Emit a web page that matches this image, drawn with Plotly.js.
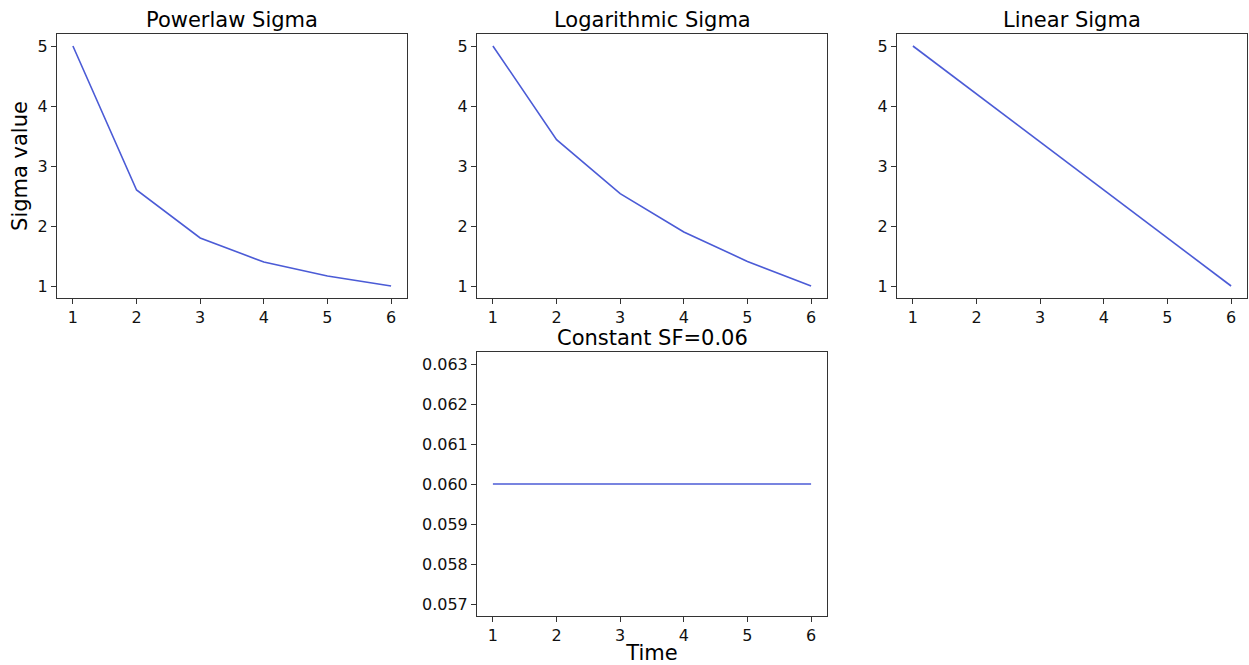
<!DOCTYPE html>
<html><head><meta charset="utf-8">
<script src="https://cdn.plot.ly/plotly-3.0.1.min.js"></script>
<style>html,body{margin:0;padding:0;background:#fff;}#plot{width:1249px;height:665px;}</style>
</head><body><div id="plot"></div>
<script>
const time = [1, 2, 3, 4, 5, 6];
const powerlawSigma = [5.0, 2.6, 1.8, 1.4, 1.167, 1.0];
const logarithmicSigma = [5.0, 3.44, 2.54, 1.9, 1.41, 1.0];
const linearSigma = [5.0, 4.2, 3.4, 2.6, 1.8, 1.0];
const constantSF = [0.06, 0.06, 0.06, 0.06, 0.06, 0.06];
const titles = ["Powerlaw Sigma", "Logarithmic Sigma", "Linear Sigma", "Constant SF=0.06"];
const sigmaTicks = [1, 2, 3, 4, 5];
const sfTicks = [0.057, 0.058, 0.059, 0.060, 0.061, 0.062, 0.063];
const sfTickText = ["0.057", "0.058", "0.059", "0.060", "0.061", "0.062", "0.063"];
const timeTicks = [1, 2, 3, 4, 5, 6];

const W = 1249, H = 665;
const color = "#4b5bd6";
const font = "DejaVu Sans, sans-serif";
const fx = (a, b) => [a / W, b / W];
const fy = (top, bot) => [1 - bot / H, 1 - top / H];

const panels = [
  {x: fx(57, 407), y: fy(34, 298), data: powerlawSigma},
  {x: fx(477, 827), y: fy(34, 298), data: logarithmicSigma},
  {x: fx(897, 1247), y: fy(34, 298), data: linearSigma},
  {x: fx(477, 827), y: fy(352, 616), data: constantSF}
];

const traces = [];
const layout = {
  width: W, height: H,
  margin: {l: 0, r: 0, t: 0, b: 0},
  paper_bgcolor: "#fff", plot_bgcolor: "#fff",
  showlegend: false,
  font: {family: font, color: "#000", size: 16},
  annotations: []
};

panels.forEach((p, i) => {
  const n = i + 1;
  const sfx = (n === 1 ? "" : String(n));
  traces.push({x: time, y: p.data, xaxis: "x" + sfx, yaxis: "y" + sfx, type: "scatter", mode: "lines",
    line: {color: color, width: 1.6}, hoverinfo: "x+y"});
  const common = {showline: true, mirror: true, linecolor: "#333", linewidth: 1,
    showgrid: false, zeroline: false, ticks: "outside", ticklen: 5, tickwidth: 1, tickcolor: "#333",
    tickfont: {family: font, size: 16, color: "#111"}};
  layout["xaxis" + sfx] = Object.assign({}, common, {
    domain: p.x, anchor: "y" + sfx, range: [0.75, 6.25],
    tickmode: "array", tickvals: timeTicks, ticktext: timeTicks.map(String)
  });
  const yax = Object.assign({}, common, {domain: p.y, anchor: "x" + sfx});
  if (i < 3) {
    yax.range = [0.8, 5.2];
    yax.tickmode = "array"; yax.tickvals = sigmaTicks; yax.ticktext = sigmaTicks.map(String);
  } else {
    yax.range = [0.0567, 0.0633];
    yax.tickmode = "array"; yax.tickvals = sfTicks; yax.ticktext = sfTickText;
  }
  layout["yaxis" + sfx] = yax;
  layout.annotations.push({text: titles[i], xref: "paper", yref: "paper",
    x: (p.x[0] + p.x[1]) / 2, y: p.y[1], xanchor: "center", yanchor: "bottom", yshift: 0,
    showarrow: false, font: {family: font, size: 21, color: "#000"}});
});
layout.yaxis.title = {text: "Sigma value", font: {family: font, size: 21, color: "#000"}, standoff: 4};
layout.xaxis4.title = {text: "Time", font: {family: font, size: 21, color: "#000"}, standoff: 2};

Plotly.newPlot("plot", traces, layout, {displayModeBar: false, staticPlot: true});
</script></body></html>
